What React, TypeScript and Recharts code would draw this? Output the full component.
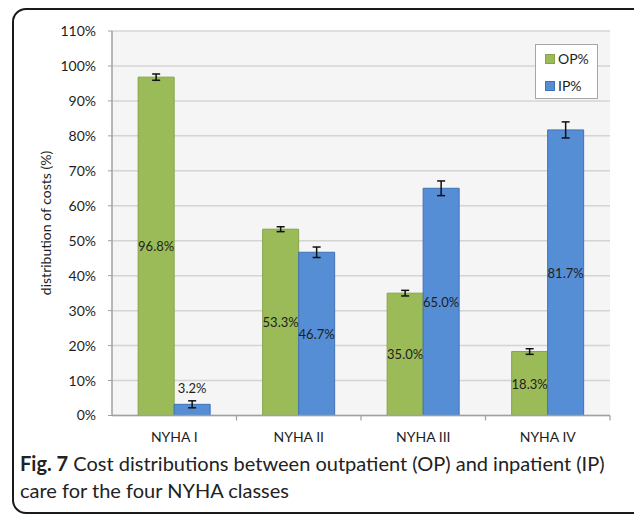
import { BarChart, Bar, XAxis, YAxis, CartesianGrid, ErrorBar, LabelList } from 'recharts';

const CLASSES = ['NYHA I', 'NYHA II', 'NYHA III', 'NYHA IV'];
const OP_SHARE = [96.8, 53.3, 35.0, 18.3];
const IP_SHARE = [3.2, 46.7, 65.0, 81.7];
const OP_ERR = [0.9, 0.7, 0.8, 0.8];
const IP_ERR = [1.0, 1.5, 2.1, 2.3];
const Y_TICKS = [0, 10, 20, 30, 40, 50, 60, 70, 80, 90, 100, 110];

const GREEN = '#9BBB59';
const BLUE = '#558ED5';
const FONT = 'Lato, "Open Sans", sans-serif';

const data = CLASSES.map((name, i) => ({
    name,
    op: OP_SHARE[i],
    ip: IP_SHARE[i],
    opErr: OP_ERR[i],
    ipErr: IP_ERR[i],
}));

function ValueLabel(props: any) {
    const { x, y, width, height, value } = props;
    const small = height < 20;
    return (
        <text
            x={x + width / 2}
            y={small ? y - 16 : y + height / 2}
            textAnchor="middle"
            dominantBaseline="central"
            fontSize={13}
            fontFamily={FONT}
            fill="#1e1e1e"
        >
            {`${Number(value).toFixed(1)}%`}
        </text>
    );
}

function CategoryTick(props: any) {
    const { x, y, payload, width, visibleTicksCount } = props;
    const band = width / visibleTicksCount;
    const axisY = y - 17;
    return (
        <g>
            <line x1={x + band / 2} x2={x + band / 2} y1={axisY} y2={axisY + 5} stroke="#a0a0a0" strokeWidth={1.2} />
            <text x={x} y={y} dy="0.71em" textAnchor="middle" fontSize={14} fontFamily={FONT} fill="#1e1e1e">
                {payload.value}
            </text>
        </g>
    );
}

// legend drawn as a plain box so it does not shrink the plot area
function LegendBox() {
    const items = [
        { label: 'OP%', color: GREEN, border: '#86a34a' },
        { label: 'IP%', color: BLUE, border: '#3f72b5' },
    ];
    return (
        <div
            style={{
                position: 'absolute',
                left: 535,
                top: 44,
                width: 61,
                height: 53,
                border: '1px solid #a6a6a6',
                background: '#fff',
                fontFamily: FONT,
                fontSize: 14,
                color: '#1e1e1e',
            }}
        >
            {items.map((it) => (
                <div key={it.label} style={{ display: 'flex', alignItems: 'center', height: 27, paddingLeft: 9 }}>
                    <span style={{ display: 'inline-block', width: 8, height: 8, background: it.color, border: `1px solid ${it.border}`, marginRight: 3 }} />
                    <span>{it.label}</span>
                </div>
            ))}
        </div>
    );
}

export default function App() {
    return (
        <div style={{ position: 'absolute', left: 0, top: 0, width: 634, height: 515, overflow: 'hidden', background: '#fff' }}>
            <div
                style={{
                    position: 'absolute',
                    left: 12,
                    top: 8,
                    width: 640,
                    height: 502,
                    border: '2px solid #1a1a1a',
                    borderRadius: 14,
                }}
            />
            <div style={{ position: 'absolute', left: 0, top: 0 }}>
                <BarChart
                    width={634}
                    height={460}
                    data={data}
                    margin={{ top: 31, right: 24, left: 40, bottom: 0 }}
                    barCategoryGap="21%"
                    barGap={0}
                >
                    <CartesianGrid vertical={false} fill="#f5f5f5" stroke="#d4d4d4" strokeWidth={1.5} />
                    <XAxis
                        dataKey="name"
                        height={44.5}
                        tickSize={0}
                        tickMargin={17}
                        axisLine={{ stroke: '#a0a0a0', strokeWidth: 1.5 }}
                        tick={<CategoryTick />}
                        interval={0}
                    />
                    <XAxis xAxisId="top" dataKey="name" orientation="top" height={0} tick={false} tickLine={false} axisLine={{ stroke: '#b0b0b0', strokeWidth: 1.5 }} />
                    <YAxis
                        width={72}
                        domain={[0, 110]}
                        ticks={Y_TICKS}
                        interval={0}
                        tickSize={4}
                        tickMargin={12}
                        tickFormatter={(v: number) => `${v}%`}
                        tick={{ fontSize: 14, fontFamily: FONT, fill: '#1e1e1e' }}
                        tickLine={{ stroke: '#a0a0a0' }}
                        axisLine={{ stroke: '#a0a0a0', strokeWidth: 1.5 }}
                        label={{
                            content: (p: any) => {
                                const vb = p.viewBox;
                                const cx = vb.x + 5;
                                const cy = 223;
                                return (
                                    <text
                                        x={cx}
                                        y={cy}
                                        transform={`rotate(-90, ${cx}, ${cy})`}
                                        textAnchor="middle"
                                        dominantBaseline="central"
                                        fontSize={14}
                                        fontFamily={FONT}
                                        fill="#1e1e1e"
                                    >
                                        distribution of costs (%)
                                    </text>
                                );
                            },
                        }}
                    />
                    <YAxis yAxisId="right" orientation="right" width={0} domain={[0, 110]} tick={false} tickLine={false} axisLine={{ stroke: '#b0b0b0', strokeWidth: 1.5 }} />
                    <Bar dataKey="op" name="OP%" fill={GREEN} stroke="#86a34a" strokeWidth={1} isAnimationActive={false}>
                        <ErrorBar dataKey="opErr" width={4} stroke="#111" strokeWidth={1.5} direction="y" />
                        <LabelList dataKey="op" content={<ValueLabel />} />
                    </Bar>
                    <Bar dataKey="ip" name="IP%" fill={BLUE} stroke="#3f72b5" strokeWidth={1} isAnimationActive={false}>
                        <ErrorBar dataKey="ipErr" width={4} stroke="#111" strokeWidth={1.5} direction="y" />
                        <LabelList dataKey="ip" content={<ValueLabel />} />
                    </Bar>
                </BarChart>
            </div>
            <LegendBox />
            <div
                style={{
                    position: 'absolute',
                    left: 20,
                    top: 450,
                    width: 612,
                    fontFamily: FONT,
                    fontSize: 20,
                    lineHeight: '27px',
                    color: '#222',
                    whiteSpace: 'nowrap',
                }}
            >
                <b>Fig. 7</b> Cost distributions between outpatient (OP) and inpatient (IP)
                <br />
                care for the four NYHA classes
            </div>
        </div>
    );
}
